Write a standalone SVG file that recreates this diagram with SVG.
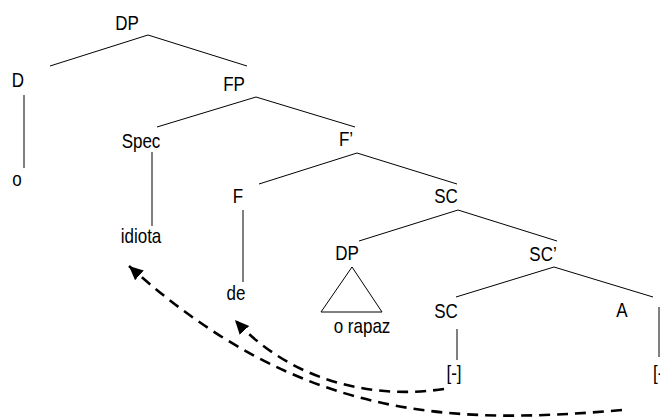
<svg xmlns="http://www.w3.org/2000/svg" width="660" height="417" viewBox="0 0 660 417">
<style>
text{font-family:"Liberation Sans",Arial,sans-serif;font-size:20px;fill:#000;text-anchor:middle}
.e{stroke:#000;stroke-width:1;fill:none}
.mv{stroke:#000;stroke-width:2.6;fill:none;stroke-dasharray:11 7}
</style>
<defs>
<marker id="ah" markerUnits="userSpaceOnUse" markerWidth="16" markerHeight="14" refX="14" refY="6.5" orient="auto">
<path d="M0,0 L14,6.5 L0,13 z" fill="#000"/>
</marker>
</defs>
<rect width="660" height="417" fill="#fff"/>
<g id="connectors">
<line class="e" x1="148" y1="35" x2="50" y2="66"/>
<line class="e" x1="148" y1="35" x2="247" y2="66"/>
<line class="e" x1="24" y1="95" x2="24" y2="168"/>
<line class="e" x1="256" y1="97" x2="157" y2="127"/>
<line class="e" x1="256" y1="97" x2="355" y2="127"/>
<line class="e" x1="152" y1="152" x2="152" y2="226"/>
<line class="e" x1="357" y1="153" x2="259" y2="184"/>
<line class="e" x1="357" y1="153" x2="457" y2="184"/>
<line class="e" x1="243" y1="210" x2="243" y2="282"/>
<line class="e" x1="458" y1="210" x2="359" y2="241"/>
<line class="e" x1="458" y1="210" x2="557" y2="241"/>
<line class="e" x1="554" y1="267" x2="456" y2="297"/>
<line class="e" x1="554" y1="267" x2="653" y2="297"/>
<line class="e" x1="457" y1="329" x2="457" y2="360"/>
<line class="e" x1="659" y1="307" x2="659" y2="357"/>
<path class="mv" d="M444,389 C370,400 290,380 235,320" marker-end="url(#ah)"/>
<path class="mv" d="M622,410 C450,425 300,420 129,266" marker-end="url(#ah)"/>
</g>
<g id="n-dp"><text transform="translate(127,30) scale(0.85,1)">DP</text></g>
<g id="n-d"><text transform="translate(18,87) scale(0.85,1)">D</text></g>
<g id="n-o"><text transform="translate(17,186) scale(0.85,1)">o</text></g>
<g id="n-fp"><text transform="translate(234,91) scale(0.85,1)">FP</text></g>
<g id="n-spec"><text transform="translate(141,148) scale(0.85,1)">Spec</text></g>
<g id="n-fbar"><text transform="translate(346,146) scale(0.85,1)">F’</text></g>
<g id="n-f"><text transform="translate(238,203) scale(0.85,1)">F</text></g>
<g id="n-sc1"><text transform="translate(446,203) scale(0.85,1)">SC</text></g>
<g id="n-idiota"><text transform="translate(141,243) scale(0.85,1)">idiota</text></g>
<g id="n-de"><text transform="translate(236,300) scale(0.85,1)">de</text></g>
<g id="n-dp2"><text transform="translate(347,260) scale(0.85,1)">DP</text><polygon class="e" points="352,267 321,312 382,312"/></g>
<g id="n-orapaz"><text transform="translate(362,333) scale(0.85,1)">o rapaz</text></g>
<g id="n-scbar"><text transform="translate(543,261) scale(0.85,1)">SC’</text></g>
<g id="n-sc2"><text transform="translate(446,318) scale(0.85,1)">SC</text></g>
<g id="n-a"><text transform="translate(622,317) scale(0.85,1)">A</text></g>
<g id="n-t1"><text transform="translate(454,380) scale(0.85,1)">[-]</text></g>
<g id="n-t2"><text transform="translate(653,380) scale(0.85,1)" style="text-anchor:start">[-]</text></g>
</svg>
